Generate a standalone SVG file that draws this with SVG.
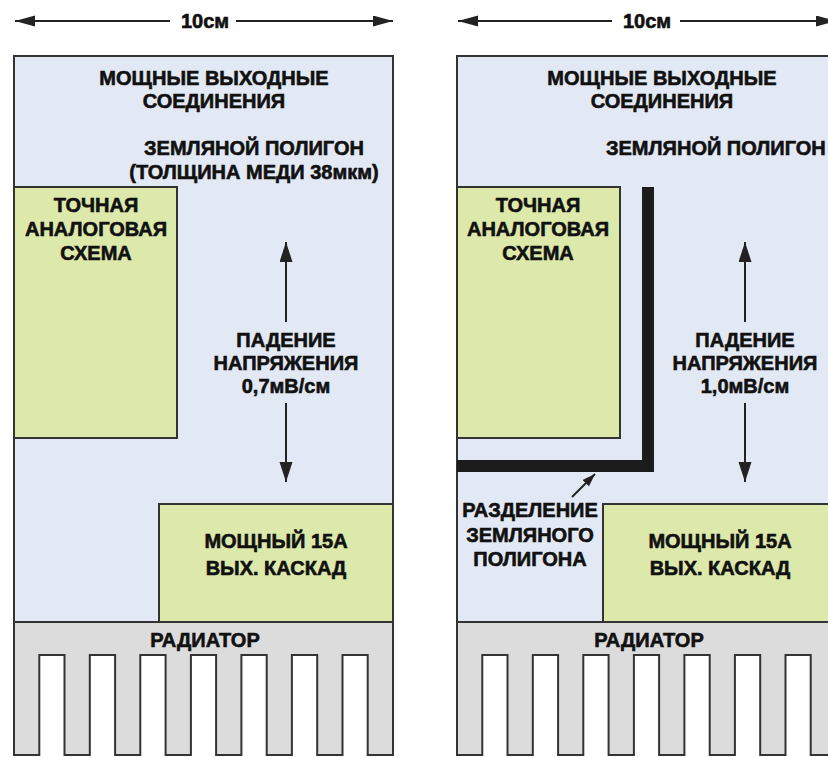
<svg xmlns="http://www.w3.org/2000/svg" width="828" height="758" viewBox="0 0 828 758">
<style>
text{font-family:"Liberation Sans",Arial,sans-serif;font-weight:bold;font-size:20px;fill:#111;stroke:#111;stroke-width:0.6;text-anchor:middle}
.plane{fill:#e3e9f4;stroke:#333;stroke-width:2}
.green{fill:#dde8ab;stroke:#333;stroke-width:2}
.sink{fill:#dcdcdc;stroke:#333;stroke-width:2;stroke-linejoin:miter}
.ln{stroke:#222;stroke-width:2;fill:none}
.sep{fill:#1c1c1c}
</style>
<defs>
<marker id="ahv" markerUnits="userSpaceOnUse" markerWidth="22" markerHeight="14" refX="20" refY="6.5" orient="auto">
<path d="M0,0 L20,6.5 L0,13 z" fill="#222"/>
</marker>
<marker id="aht" markerUnits="userSpaceOnUse" markerWidth="22" markerHeight="12" refX="20" refY="5.5" orient="auto">
<path d="M0,0 L20,5.5 L0,11 z" fill="#222"/>
</marker>
<marker id="ahs" markerUnits="userSpaceOnUse" markerWidth="14" markerHeight="10" refX="13" refY="4.5" orient="auto">
<path d="M0,0 L13,4.5 L0,9 z" fill="#222"/>
</marker>
<path id="sinkpath" d="M14,622 H393 V755 H367.7 V655 H342.5 V755 H317.2 V655 H291.9 V755 H266.7 V655 H241.4 V755 H216.1 V655 H190.9 V755 H165.6 V655 H140.3 V755 H115.1 V655 H89.8 V755 H64.5 V655 H39.3 V755 H14 Z"/>
</defs>

<!-- LEFT PANEL -->
<g id="left-plane">
<rect class="plane" x="14" y="56" width="379" height="566"/>
<text x="214" y="85">МОЩНЫЕ ВЫХОДНЫЕ</text>
<text x="214" y="108">СОЕДИНЕНИЯ</text>
<text x="254" y="155">ЗЕМЛЯНОЙ ПОЛИГОН</text>
<text x="254" y="179">(ТОЛЩИНА МЕДИ 38мкм)</text>
<text x="286" y="347">ПАДЕНИЕ</text>
<text x="286" y="370">НАПРЯЖЕНИЯ</text>
<text x="286" y="393">0,7мВ/см</text>
</g>
<g id="left-analog">
<rect class="green" x="14" y="187" width="163" height="251"/>
<text x="96" y="212">ТОЧНАЯ</text>
<text x="96" y="236">АНАЛОГОВАЯ</text>
<text x="96" y="260">СХЕМА</text>
</g>
<g id="left-power">
<rect class="green" x="159" y="504" width="234" height="118"/>
<text x="276" y="548">МОЩНЫЙ 15А</text>
<text x="276" y="575">ВЫХ. КАСКАД</text>
</g>
<g id="left-heatsink">
<use href="#sinkpath" class="sink"/>
<text x="205" y="647">РАДИАТОР</text>
</g>
<g id="left-dim">
<text x="205" y="28">10см</text>
</g>

<!-- RIGHT PANEL -->
<g id="right-plane">
<rect class="plane" x="457" y="56" width="379" height="566"/>
<text x="662" y="85">МОЩНЫЕ ВЫХОДНЫЕ</text>
<text x="662" y="108">СОЕДИНЕНИЯ</text>
<text x="606" y="155" style="text-anchor:start">ЗЕМЛЯНОЙ ПОЛИГОН</text>
<text x="745" y="347">ПАДЕНИЕ</text>
<text x="745" y="370">НАПРЯЖЕНИЯ</text>
<text x="745" y="393">1,0мВ/см</text>
</g>
<g id="right-analog">
<rect class="green" x="457" y="187" width="163" height="251"/>
<text x="538" y="212">ТОЧНАЯ</text>
<text x="538" y="236">АНАЛОГОВАЯ</text>
<text x="538" y="260">СХЕМА</text>
</g>
<g id="right-split">
<path class="sep" d="M642,187 H654 V472 H457 V460 H642 Z"/>
<text x="530" y="517">РАЗДЕЛЕНИЕ</text>
<text x="530" y="542">ЗЕМЛЯНОГО</text>
<text x="530" y="566">ПОЛИГОНА</text>
</g>
<g id="right-power">
<rect class="green" x="603" y="504" width="233" height="118"/>
<text x="720" y="548">МОЩНЫЙ 15А</text>
<text x="720" y="575">ВЫХ. КАСКАД</text>
</g>
<g id="right-heatsink">
<use href="#sinkpath" class="sink" transform="translate(443,0)"/>
<text x="649" y="647">РАДИАТОР</text>
</g>
<g id="right-dim">
<text x="647" y="28">10см</text>
</g>

<g id="connectors">
<line class="ln" x1="170" y1="21" x2="15" y2="21" marker-end="url(#aht)"/>
<line class="ln" x1="236" y1="21" x2="393" y2="21" marker-end="url(#aht)"/>
<line class="ln" x1="612" y1="21" x2="458" y2="21" marker-end="url(#aht)"/>
<line class="ln" x1="680" y1="21" x2="836" y2="21" marker-end="url(#aht)"/>
<line class="ln" x1="286" y1="322" x2="286" y2="242" marker-end="url(#ahv)"/>
<line class="ln" x1="286" y1="403" x2="286" y2="482" marker-end="url(#ahv)"/>
<line class="ln" x1="745" y1="322" x2="745" y2="242" marker-end="url(#ahv)"/>
<line class="ln" x1="745" y1="403" x2="745" y2="482" marker-end="url(#ahv)"/>
<line class="ln" x1="572" y1="497" x2="595" y2="474" marker-end="url(#ahs)"/>
</g>
</svg>
